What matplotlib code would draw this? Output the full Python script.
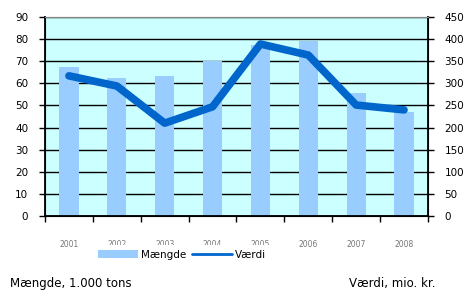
import numpy as np
import matplotlib.pyplot as plt

years = ['2001', '2002', '2003', '2004', '2005', '2006', '2007', '2008']
maengde = [67.4, 62.3, 63.3, 70.3, 77.4, 79.2, 55.8, 47.2]
vaerdi = [317, 294, 210, 247, 389, 364, 251, 240]

plt.rcParams['font.family'] = 'DejaVu Sans'

fig = plt.figure(figsize=(4.67, 2.99), dpi=100)
ax = fig.add_axes([0.0964, 0.2776, 0.82, 0.6654])
ax.set_facecolor('#CCFFFF')

x = np.arange(len(years))
bars = ax.bar(x, maengde, width=0.4, color='#99CCFF', zorder=2, label='Mængde')
ax.set_xlim(-0.5, len(years) - 0.5)
ax.set_ylim(0, 90)
ax.set_yticks(range(0, 91, 10))
ax.grid(axis='y', color='black', linewidth=1, zorder=1)
ax.set_axisbelow(True)

ax2 = ax.twinx()
line, = ax2.plot(x, vaerdi, color='#0066CC', linewidth=5.5, solid_capstyle='round',
                 solid_joinstyle='round', zorder=3, label='Værdi')
ax2.set_ylim(0, 450)
ax2.set_yticks(range(0, 451, 50))

# ticks on category boundaries
ax.set_xticks(np.arange(-0.5, len(years), 1.0))
ax.set_xticklabels([])
ax.tick_params(axis='x', length=4, width=1, direction='out', color='black')
for i, yr in enumerate(years):
    ax.text(i, -0.12, yr, transform=ax.get_xaxis_transform(), ha='center', va='top',
            fontsize=5.5, color='#777777')

ax.tick_params(axis='y', length=4, width=1, labelsize=7.5, pad=8)
ax2.tick_params(axis='y', length=4, width=1, labelsize=7.5, pad=8)

for sp in ['left', 'bottom', 'right']:
    ax.spines[sp].set_color('black')
    ax2.spines[sp].set_color('black')
ax.spines['left'].set_linewidth(1.3)
ax.spines['bottom'].set_linewidth(1.3)
ax2.spines['right'].set_linewidth(1.3)
ax.spines['top'].set_color('#888888')
ax2.spines['top'].set_color('#888888')

leg = fig.legend([bars, line], ['Mængde', 'Værdi'], loc='center', bbox_to_anchor=(0.39, 0.148),
                 ncol=2, frameon=True, fontsize=7.5, handlelength=3.8, columnspacing=0.6,
                 handletextpad=0.3, borderpad=0.5)
leg.get_frame().set_edgecolor('none')
leg.get_frame().set_facecolor('white')
leg.get_frame().set_alpha(1)
leg.legend_handles[1].set_linewidth(2)

fig.text(0.021, 0.03, 'Mængde, 1.000 tons', fontsize=8.5, ha='left', va='bottom')
fig.text(0.933, 0.03, 'Værdi, mio. kr.', fontsize=8.5, ha='right', va='bottom')

fig.savefig('out.png', dpi=100)
